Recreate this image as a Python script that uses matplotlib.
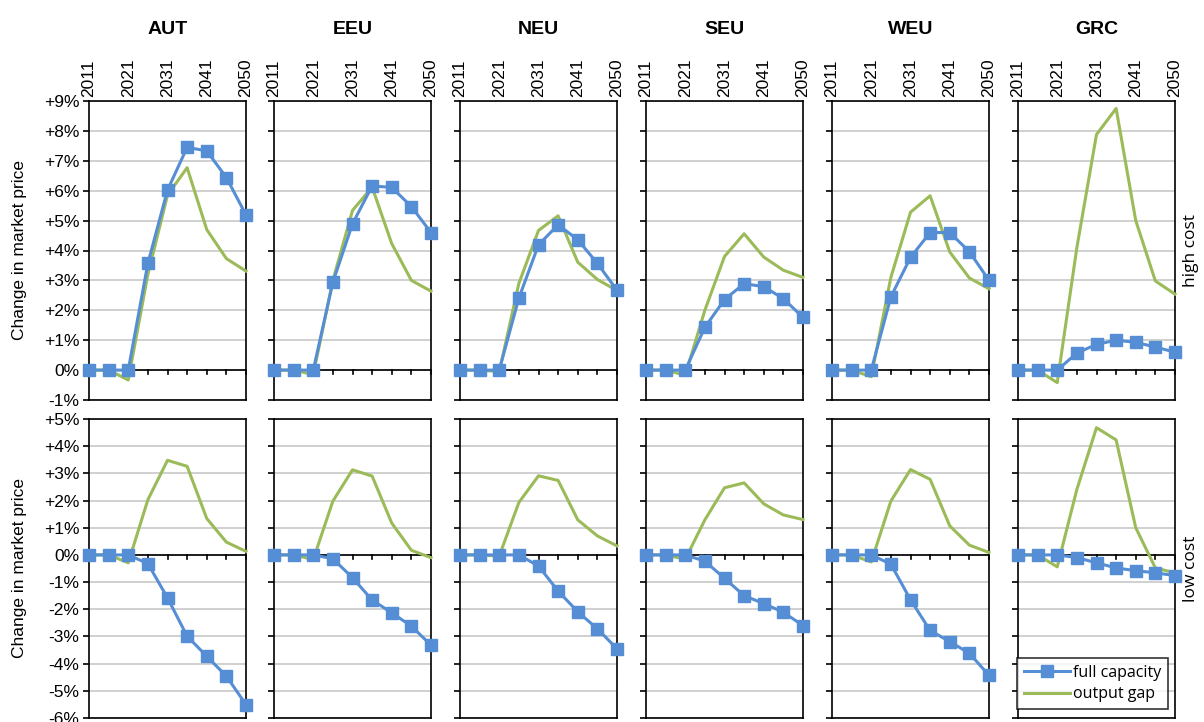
import numpy as np
import matplotlib.pyplot as plt
from matplotlib.ticker import FixedLocator, FuncFormatter

plt.rcParams['font.family'] = 'sans-serif'
plt.rcParams['font.sans-serif'] = ['Liberation Sans', 'Arial', 'DejaVu Sans']

years = [2011, 2016, 2021, 2026, 2031, 2036, 2041, 2046, 2050]
regions = ['AUT', 'EEU', 'NEU', 'SEU', 'WEU', 'GRC']
rows = ['high cost', 'low cost']

# change in market price, % (high cost scenario)
high_full = {
    'AUT': [0, 0, 0, 3.57, 6.02, 7.45, 7.33, 6.44, 5.19],
    'EEU': [0, 0, 0, 2.94, 4.89, 6.16, 6.11, 5.47, 4.60],
    'NEU': [0, 0, 0, 2.41, 4.19, 4.86, 4.36, 3.57, 2.67],
    'SEU': [0, 0, 0, 1.43, 2.36, 2.89, 2.79, 2.39, 1.76],
    'WEU': [0, 0, 0, 2.45, 3.77, 4.60, 4.60, 3.96, 3.00],
    'GRC': [0, 0, 0, 0.57, 0.86, 1.00, 0.93, 0.77, 0.60],
}
high_gap = {
    'AUT': [0, 0, -0.33, 3.20, 5.85, 6.77, 4.70, 3.73, 3.31],
    'EEU': [0, 0, -0.15, 3.00, 5.34, 6.12, 4.23, 3.00, 2.64],
    'NEU': [0, 0, -0.05, 2.90, 4.67, 5.16, 3.61, 3.03, 2.66],
    'SEU': [0, 0, -0.17, 2.00, 3.80, 4.56, 3.78, 3.34, 3.10],
    'WEU': [0, 0, -0.22, 3.10, 5.28, 5.83, 3.95, 3.08, 2.72],
    'GRC': [0, 0, -0.42, 4.10, 7.88, 8.75, 5.00, 2.98, 2.54],
}
# change in market price, % (low cost scenario)
low_full = {
    'AUT': [0, 0, 0, -0.32, -1.58, -2.99, -3.73, -4.46, -5.51],
    'EEU': [0, 0, 0, -0.14, -0.84, -1.66, -2.13, -2.62, -3.32],
    'NEU': [0, 0, 0, 0.00, -0.41, -1.33, -2.09, -2.72, -3.45],
    'SEU': [0, 0, 0, -0.23, -0.86, -1.50, -1.79, -2.11, -2.60],
    'WEU': [0, 0, 0, -0.34, -1.65, -2.78, -3.19, -3.62, -4.43],
    'GRC': [0, 0, 0, -0.10, -0.29, -0.48, -0.58, -0.66, -0.76],
}
low_gap = {
    'AUT': [0, 0, -0.29, 2.03, 3.48, 3.26, 1.34, 0.47, 0.13],
    'EEU': [0, 0, -0.17, 1.98, 3.13, 2.90, 1.17, 0.17, -0.10],
    'NEU': [0, 0, -0.04, 1.93, 2.91, 2.74, 1.29, 0.70, 0.33],
    'SEU': [0, 0, -0.16, 1.29, 2.47, 2.65, 1.88, 1.47, 1.30],
    'WEU': [0, 0, -0.26, 1.98, 3.14, 2.78, 1.07, 0.36, 0.09],
    'GRC': [0, 0, -0.44, 2.41, 4.68, 4.23, 1.00, -0.48, -0.66],
}

year_labels = ['2011', '2021', '2031', '2041', '2050']
ylims = [(-1, 9), (-6, 5)]

blue = '#558ED5'
green = '#9BBB59'
grid_c = '#C8C8C8'

fig = plt.figure(figsize=(12.04, 7.22), dpi=100)
W, H = 1204, 722
lefts = [89, 274, 460, 646, 832, 1018]
tops = [101, 419]
aw, ah = 157, 299

pct = FuncFormatter(lambda v, p: '0%' if v == 0 else f'{v:+.0f}%')
x = np.arange(len(years))

for r, (full, gap) in enumerate([(high_full, high_gap), (low_full, low_gap)]):
    lo, hi = ylims[r]
    for c, reg in enumerate(regions):
        ax = fig.add_axes([lefts[c] / W, (H - tops[r] - ah) / H, aw / W, ah / H])
        ax.set_xlim(0, len(years) - 1)
        ax.set_ylim(lo, hi)
        ax.yaxis.set_major_locator(FixedLocator(np.arange(lo, hi + 1)))
        ax.grid(axis='y', color=grid_c, lw=1.2, zorder=0)
        ax.set_axisbelow(True)
        ax.axhline(0, color='black', lw=1.2, zorder=2)
        for s in ax.spines.values():
            s.set_linewidth(1.2)
        ax.tick_params(axis='y', direction='out', length=4, width=1.2,
                       labelsize=12.5, pad=3)
        if c == 0:
            ax.yaxis.set_major_formatter(pct)
            ax.set_ylabel('Change in market price', fontsize=12.5, labelpad=12)
        else:
            ax.set_yticklabels([])
        ax.set_xticks([])
        # category tick marks hanging below the zero line
        for xi in x[1:]:
            ax.plot([xi, xi], [0, -(hi - lo) * 0.014], color='black', lw=1.2,
                    clip_on=False, zorder=2)

        ax.plot(x, full[reg], color=blue, lw=2.2, marker='s', ms=8,
                zorder=4, clip_on=False, label='full capacity')
        ax.plot(x, gap[reg], color=green, lw=2.2, zorder=3, clip_on=False,
                label='output gap')

        if r == 0:
            ax.set_title(reg, fontsize=14, fontweight='bold', pad=48)
            sec = ax.secondary_xaxis('top')
            sec.set_xticks([0, 2, 4, 6, 8], year_labels, rotation=90,
                           fontsize=12.5)
            sec.tick_params(length=0, pad=3)
            sec.spines['top'].set_visible(False)

        if c == len(regions) - 1:
            ax.text(1.1, 0.5, rows[r], transform=ax.transAxes, rotation=90,
                    ha='center', va='center', fontsize=12.5,
                    fontfamily='Open Sans')
            if r == 1:
                leg = ax.legend(loc='lower right', bbox_to_anchor=(0.975, 0.02),
                                frameon=True, fancybox=False,
                                handlelength=2.9, borderpad=0.4,
                                labelspacing=0.35, handletextpad=0.2,
                                borderaxespad=0.2,
                                prop={'family': 'Open Sans', 'size': 11.5})
                leg.get_frame().set_edgecolor('black')
                leg.get_frame().set_linewidth(1.2)

fig.savefig('out.png', dpi=100)
